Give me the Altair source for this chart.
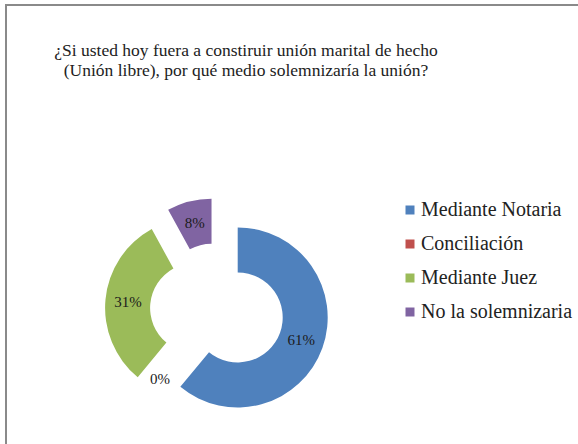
import math
import altair as alt
import pandas as pd

categories = ["Mediante Notaria", "Conciliación", "Mediante Juez", "No la solemnizaria"]
values = [61, 0, 31, 8]
colors = ["#4F81BD", "#C0504D", "#9BBB59", "#8064A2"]
title_lines = [
    "¿Si usted hoy fuera a constiruir unión marital de hecho",
    "(Unión libre), por qué medio solemnizaría la unión?",
]

df = pd.DataFrame({"cat": categories, "val": values, "order": list(range(len(values)))})
TOTAL = sum(values)

SERIF = "Liberation Serif"

CX, CY = 217, 310
EXPLODE = 22
R_OUT, R_IN = 90, 45
R_LAB = 67.5

base = (
    alt.Chart(df)
    .transform_joinaggregate(total="sum(val)")
    .transform_window(cum="sum(val)", sort=[alt.SortField("order")], frame=[None, 0])
    .transform_calculate(start="datum.cum - datum.val")
    .transform_calculate(mid="2*PI*(datum.cum - datum.val/2)/datum.total")
    .transform_calculate(cx=f"{CX} + {EXPLODE}*sin(datum.mid)")
    .transform_calculate(cy=f"{CY} - {EXPLODE}*cos(datum.mid)")
    .transform_calculate(lx=f"datum.cx + {R_LAB}*sin(datum.mid)")
    .transform_calculate(ly=f"datum.cy - {R_LAB}*cos(datum.mid)")
    .transform_calculate(label="format(datum.val/datum.total, '.0%')")
)

arcs = base.mark_arc(innerRadius=R_IN, outerRadius=R_OUT).encode(
    x=alt.X("cx:Q", scale=None, axis=None),
    y=alt.Y("cy:Q", scale=None, axis=None),
    theta=alt.Theta("start:Q", stack=None,
                    scale=alt.Scale(domain=[0, TOTAL], range=[0, 2 * math.pi])),
    theta2="cum:Q",
    color=alt.Color(
        "cat:N",
        scale=alt.Scale(domain=categories, range=colors),
        sort=categories,
        legend=alt.Legend(
            title=None,
            orient="none",
            legendX=400,
            legendY=200,
            symbolType="square",
            symbolSize=81,
            symbolStrokeWidth=0,
            symbolOpacity=1,
            labelFont=SERIF,
            labelFontSize=20,
            labelColor="#222222",
            labelOffset=1,
            rowPadding=14,
            labelLimit=300,
        ),
    ),
)

labels = base.mark_text(font=SERIF, fontSize=15, color="#1b1b1b").encode(
    x=alt.X("lx:Q", scale=None, axis=None),
    y=alt.Y("ly:Q", scale=None, axis=None),
    text="label:N",
)

title = alt.Chart(pd.DataFrame({"t": [0]})).mark_text(
    text=title_lines,
    font=SERIF,
    fontSize=17.5,
    align="center",
    baseline="alphabetic",
    lineHeight=20,
    color="#222222",
).encode(x=alt.value(246), y=alt.value(56))

frame = alt.Chart(pd.DataFrame({"t": [0]})).mark_rect(
    fill=None, fillOpacity=0, stroke="#8a8a8a", strokeWidth=2
).encode(x=alt.value(6), x2=alt.value(800), y=alt.value(5), y2=alt.value(800))

chart = (
    alt.layer(frame, arcs, labels, title)
    .properties(width=578, height=444, padding=0, autosize=alt.AutoSizeParams(type="none"),
                background="white")
    .configure_view(stroke=None)
)

chart.save("out.html", embed_options={"renderer": "svg", "actions": False})
